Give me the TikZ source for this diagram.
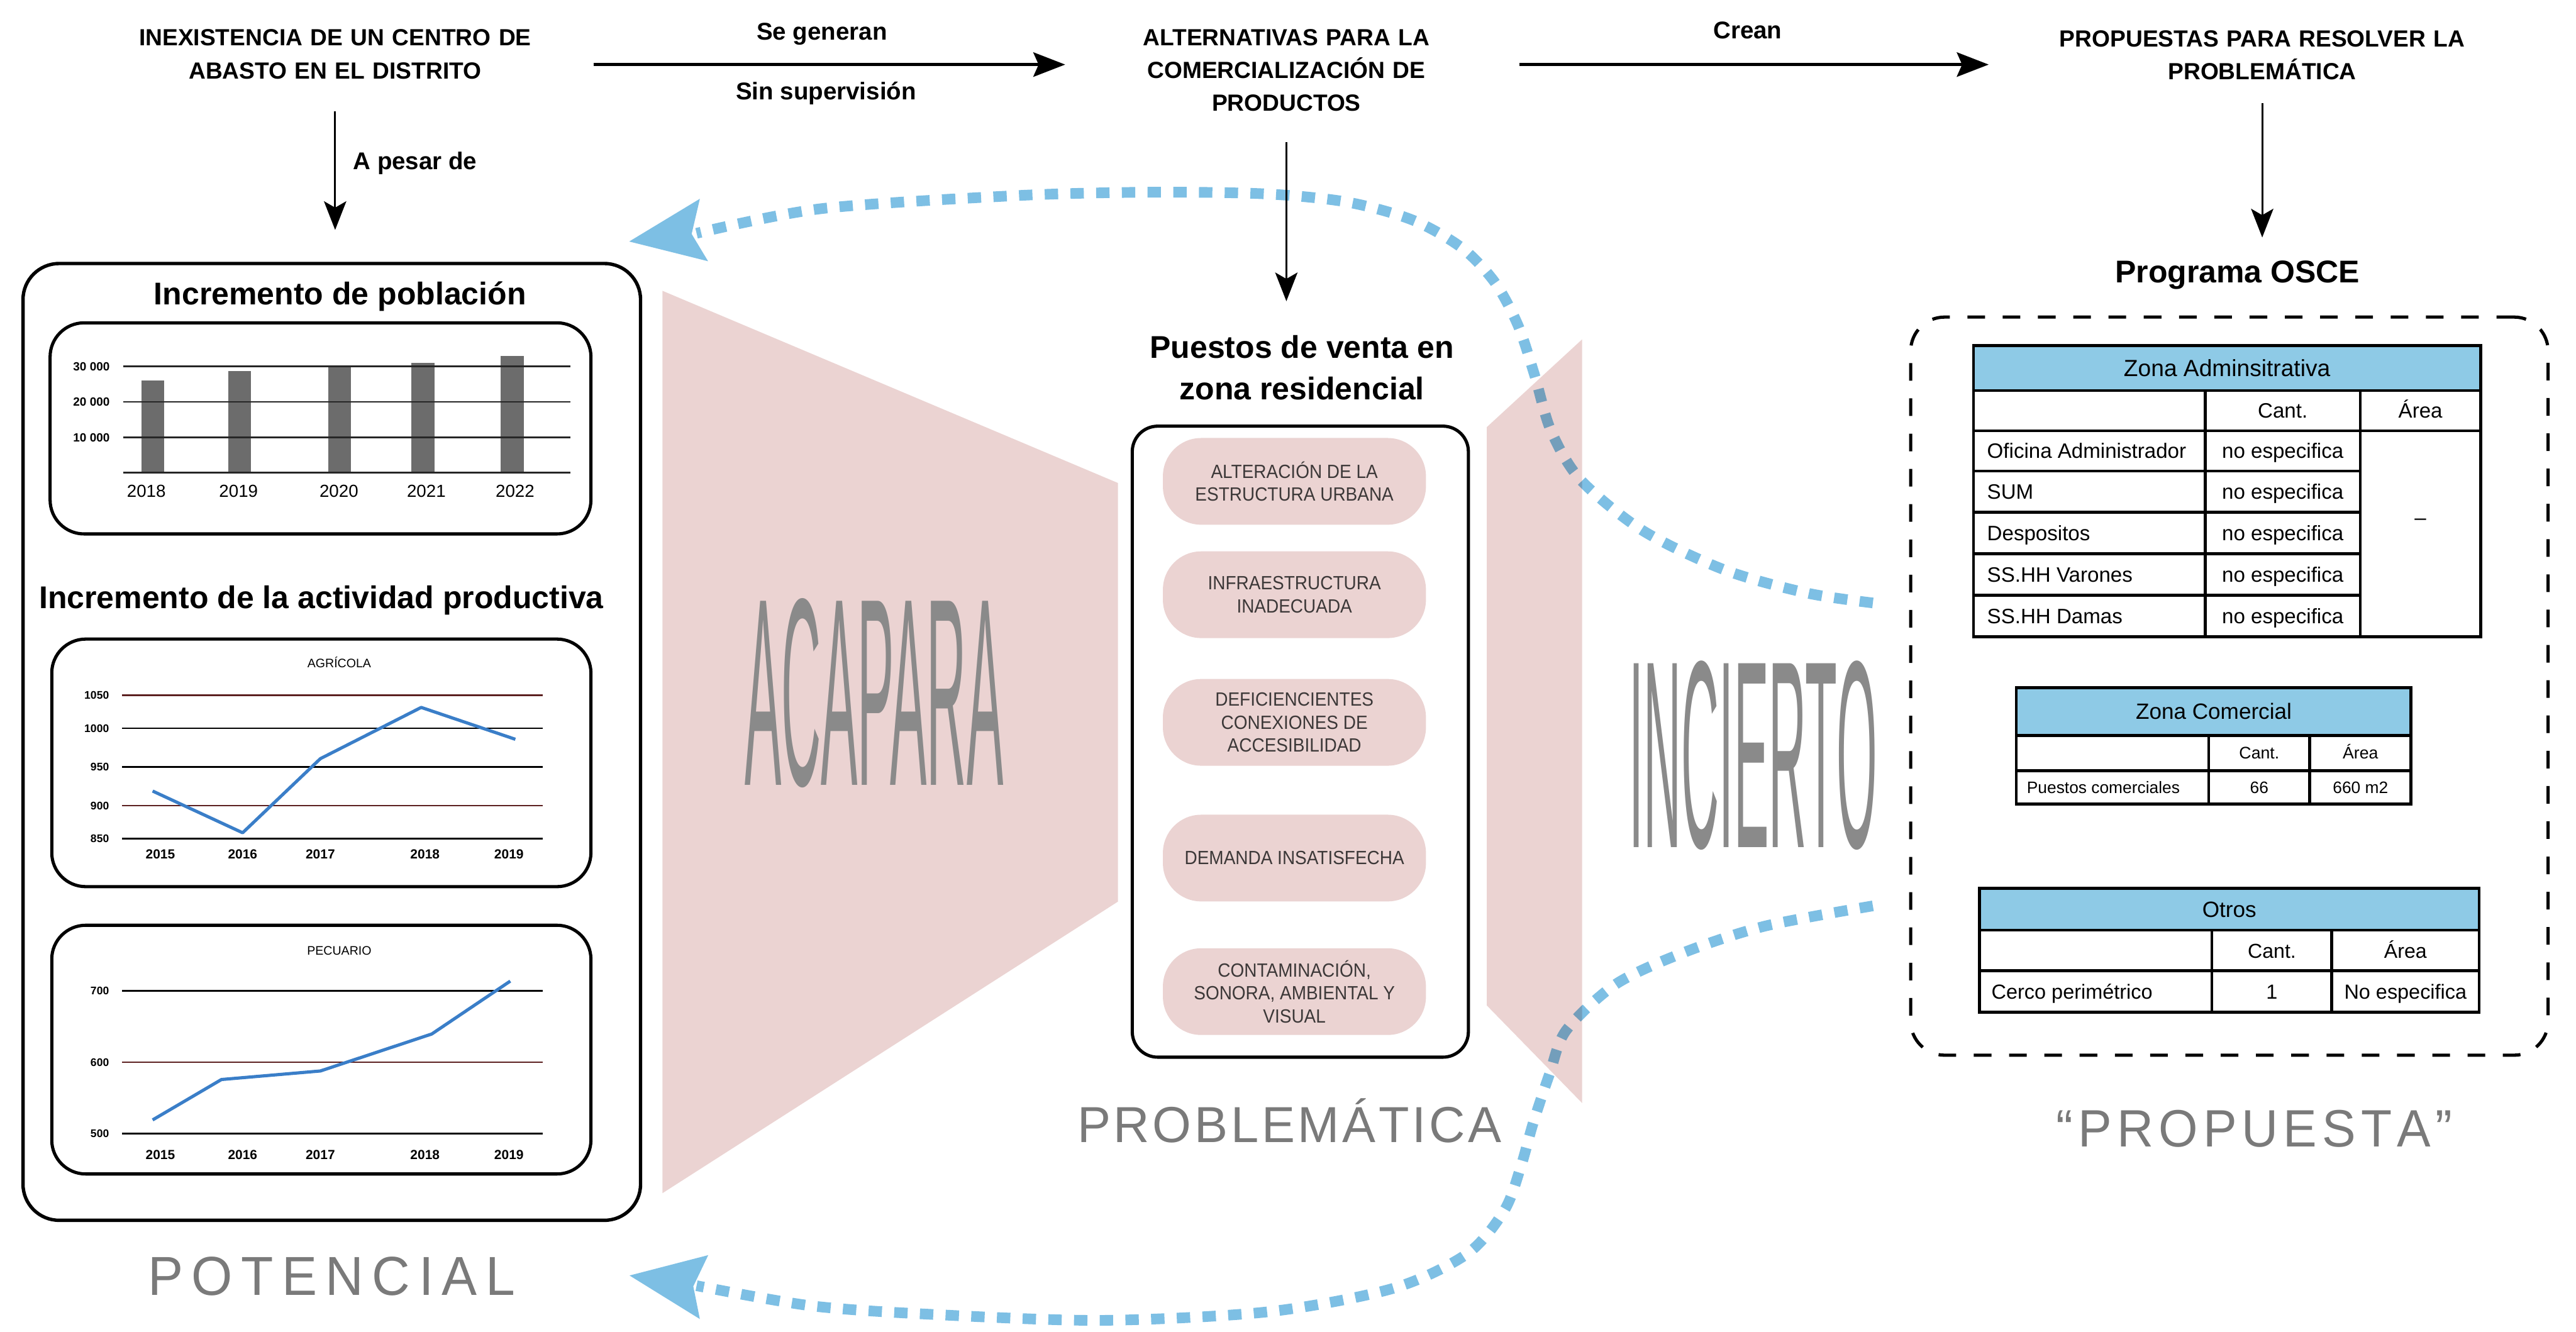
\documentclass[tikz,border=0pt]{standalone}
\usepackage{graphicx}
\usepackage{fontspec}
\setmainfont{Liberation Sans}
\newfontfamily\pillfont[FakeStretch=0.92]{Liberation Sans}
\usetikzlibrary{arrows.meta,fit}

\definecolor{pinkfill}{RGB}{235,211,210}
\definecolor{pilltext}{RGB}{60,56,56}
\definecolor{loopblue}{RGB}{125,191,228}
\definecolor{headblue}{RGB}{142,202,230}
\definecolor{biggrey}{RGB}{138,138,138}
\definecolor{wordgrey}{RGB}{122,122,122}
\definecolor{bargrey}{RGB}{108,108,108}
\definecolor{plotblue}{RGB}{58,126,200}
\definecolor{gridred}{RGB}{92,32,32}

% scale a text so that its capital height and its width take the given sizes
\newcommand{\capfit}[3]{\resizebox{#1}{#2}{\vphantom{X}\smash{#3}}}
\newcommand{\lsk}[1]{\kern#1em}

\begin{document}
\begin{tikzpicture}[x=0.02717cm, y=-0.02717cm,
  every node/.style={inner sep=0pt},
  txt/.code={\pgfmathsetmacro\capht{0.72*#1}%
    \edef\tmpkeys{\noexpand\tikzset{font=\noexpand\fontsize{#1}{#1}\noexpand\selectfont,
      text height=\capht pt, text depth=0pt}}\tmpkeys},
  txtb/.code={\pgfmathsetmacro\capht{0.72*#1}%
    \edef\tmpkeys{\noexpand\tikzset{font=\noexpand\bfseries\noexpand\fontsize{#1}{#1}\noexpand\selectfont,
      text height=\capht pt, text depth=0pt}}\tmpkeys},
  hdr/.style={font=\bfseries\fontsize{11}{15.5}\selectfont, align=center},
  subhead/.style={font=\bfseries\fontsize{14.8}{19.7}\selectfont, align=center},
  harrow/.style={-{Stealth[length=15pt,width=11.5pt,inset=2.5pt]}, line width=1.3pt},
  varrow/.style={-{Stealth[length=13.5pt,width=10.5pt,inset=3pt]}, line width=0.9pt},
  roundbox/.style={draw, line width=1.6pt, rounded corners=17pt},
  chartbox/.style={draw, line width=1.5pt, rounded corners=16pt},
  midbox/.style={draw, line width=1.5pt, rounded corners=12pt},
  dbox/.style={draw, line width=1.5pt, rounded corners=16pt, dash pattern=on 8.3pt off 8.3pt},
  pill/.style={fill=pinkfill, rounded corners=18pt, minimum width=123.8pt, minimum height=40.8pt,
    align=center, text=pilltext, font=\pillfont\fontsize{9}{10.8}\selectfont},
  gline/.style={line width=0.8pt},
  trend/.style={draw=plotblue, line width=1.5pt, line join=round},
  loopline/.style={draw=loopblue, line width=5pt, dash pattern=on 6.3pt off 5.8pt},
  tline/.style={line width=1.4pt},
  bigword/.style={text=biggrey},
  tagword/.style={text=wordgrey},
]
\useasboundingbox (0,0) rectangle (1568,810.5);
\fill[white] (0,0) rectangle (1568,810.5);

% ---------- pink wedges with their words ----------
\fill[pinkfill] (403.2,177) -- (680.5,294) -- (680.5,548.8) -- (403.2,726.3) -- cycle;
\fill[pinkfill] (905,260) -- (963,206.6) -- (963,671.4) -- (905,612) -- cycle;
\node[bigword] (acapara) at (532,421.9) {\capfit{4.277cm}{3.043cm}{ACAPARA}};
\node[bigword] (incierto) at (1067.2,460) {\capfit{4.097cm}{3.040cm}{INCIERTO}};

% ---------- dotted feedback loops ----------
\begin{scope}[blend mode=multiply]
  \coordinate (loopAtip) at (383,147);
  \coordinate (loopBtip) at (383.2,776.4);
  \draw[loopline] plot[smooth, tension=0.5] coordinates {(1140,367) (1100,361) (1050,347) (1000,323)
    (962,292) (944,262) (934,228) (924,198) (910,172) (890,151) (860,134) (820,123) (770,118)
    (700,117) (620,119) (500,127) (424,142)};
  \fill[loopblue] (loopAtip) -- (426,121) -- (421,142.4) -- (431,159) -- cycle;
  \draw[loopline] plot[smooth, tension=0.5] coordinates {(1140,551.4) (1074.4,563.7) (1025.4,579.6)
    (983.6,599) (953.3,627.2) (943.2,653.7) (933.2,683.7) (925.7,710.2) (915.7,736.7) (893,763.2)
    (847.7,784.3) (771.8,798.5) (670.8,803.7) (569.9,800.2) (494.2,794.9) (424,782.6)};
  \fill[loopblue] (loopBtip) -- (431.1,764) -- (422,783) -- (426,802.9) -- cycle;
\end{scope}

% ---------- top row ----------
\node[hdr, text width=242.8pt] (t1) at (204,33) {INEXISTENCIA DE UN CENTRO DE\\ABASTO EN EL DISTRITO};
\node[hdr, text width=207.8pt] (t2) at (783,42.8) {ALTERNATIVAS PARA LA\\COMERCIALIZACIÓN DE\\PRODUCTOS};
\node[hdr, text width=257.1pt] (t3) at (1377,33.5) {PROPUESTAS PARA RESOLVER LA\\PROBLEMÁTICA};
\coordinate (arow) at (0,39.3);
\draw[harrow] (t1.east |- arow) -- (t2.west |- arow);
\draw[harrow, shorten <=5.7pt] (t2.east |- arow) -- (t3.west |- arow);
\node[txtb=11.4] (lsegen) at (500.3,19) {Se generan};
\node[txtb=11.4] (lsinsup) at (502.8,55.2) {Sin supervisión};
\node[txtb=11.4] (lcrean) at (1063.8,18.4) {Crean};
\node[txtb=11.4, anchor=west] (lpesar) at (214.7,98) {A pesar de};

% ---------- left panel: potential ----------
\node[roundbox, fit={(14,160.4) (389.9,742.8)}] (pot) {};
\node[txtb=14.8] (poptitle) at (207,178.5) {Incremento de población};
\node[chartbox, fit={(30.5,196.5) (359.7,325)}] (popchart) {};
\foreach \bx/\by in {93/231.6,145.9/225.8,206.7/222.8,257.5/220.9,311.8/216.8}
  \fill[bargrey] (\bx-7,287.8) rectangle (\bx+7,\by);
\foreach \gy in {222.9,244.6,266.3,287.8}
  \draw[gline, draw=black!85] (74.9,\gy) -- (347.3,\gy);
\foreach \gy/\gl/\i in {222.9/30 000/1,244.6/20 000/2,266.3/10 000/3}
  \node[txtb=5.6, anchor=east] (popy\i) at (67,\gy) {\gl};
\foreach \yx/\yr in {89.1/2018,145.2/2019,206.3/2020,259.5/2021,313.5/2022}
  \node[txt=8.2] (popx\yr) at (\yx,298.7) {\yr};

\node[txtb=14.8] (prodtitle) at (195.6,363.3) {Incremento de la actividad productiva};

\node[chartbox, fit={(31.5,389) (359.7,539.7)}] (agrchart) {};
\node[txt=5.8] (agrtitle) at (206.5,403.6) {AGRÍCOLA};
\foreach \gy/\gc/\gl in {423.1/gridred/1050,443.3/black/1000,466.7/black/950,490.4/gridred/900,510.4/black/850}{
  \draw[gline, draw=\gc] (74.4,\gy) -- (330.5,\gy);
  \node[txtb=5.2, anchor=east] (agry\gl) at (66.6,\gy) {\gl};}
\foreach \yx/\yr in {97.6/2015,147.7/2016,195/2017,258.7/2018,309.8/2019}
  \node[txtb=6.2] (agrx\yr) at (\yx,519.8) {\yr};
\draw[trend] (92.9,481.5) -- (147.7,506.9) -- (195,461.8) -- (256.4,430.6) -- (313.7,450);

\node[chartbox, fit={(31.5,563.2) (359.7,714.6)}] (pecchart) {};
\node[txt=5.8] (pectitle) at (206.5,578.5) {PECUARIO};
\foreach \gy/\gc/\gl in {603.1/black/700,646.6/gridred/600,690/black/500}{
  \draw[gline, draw=\gc] (74.4,\gy) -- (330.5,\gy);
  \node[txtb=5.2, anchor=east] (pecy\gl) at (66.6,\gy) {\gl};}
\foreach \yx/\yr in {97.6/2015,147.7/2016,195/2017,258.7/2018,309.8/2019}
  \node[txtb=6.2] (pecx\yr) at (\yx,702.9) {\yr};
\draw[trend] (92.9,681.7) -- (134.8,657.1) -- (195,651.9) -- (262.8,629.4) -- (310.6,597.2);

\node[tagword] (potencial) at (201.8,777) {\capfit{6.072cm}{0.625cm}{P\lsk{.16}O\lsk{.16}T\lsk{.16}E\lsk{.16}N\lsk{.16}C\lsk{.16}I\lsk{.16}A\lsk{.16}L}};

% ---------- middle panel: problems ----------
\node[subhead] (ptitle) at (792.5,223.8) {Puestos de venta en\\zona residencial};
\node[midbox, fit={(689.2,259.4) (893.8,643.5)}] (resbox) {};
\node[pill] (pill1) at (787.9,293) {ALTERACIÓN DE LA\\ESTRUCTURA URBANA};
\node[pill] (pill2) at (787.9,362) {INFRAESTRUCTURA\\INADECUADA};
\node[pill] (pill3) at (787.9,439.7) {DEFICIENCIENTES\\CONEXIONES DE\\ACCESIBILIDAD};
\node[pill] (pill4) at (787.9,522.3) {DEMANDA INSATISFECHA};
\node[pill] (pill5) at (787.9,603.6) {CONTAMINACIÓN,\\SONORA, AMBIENTAL Y\\VISUAL};
\node[tagword] (problematica) at (784.9,684.6) {\capfit{7.018cm}{0.576cm}{P\lsk{.06}R\lsk{.06}O\lsk{.06}B\lsk{.06}L\lsk{.06}E\lsk{.06}M\lsk{.06}Á\lsk{.06}T\lsk{.06}I\lsk{.06}C\lsk{.06}A}};

% ---------- right panel: proposal ----------
\node[txtb=14.8] (osce) at (1362,165) {Programa OSCE};
\node[dbox, fit={(1163,193) (1551,642.3)}] (propbox) {};

% administrative zone
\fill[headblue] (1201.3,210.4) rectangle (1510,237.7);
\draw[tline] (1201.3,210.4) rectangle (1510,387.5);
\draw[tline] (1201.3,237.7) -- (1510,237.7) (1201.3,262.2) -- (1510,262.2);
\foreach \gy in {286.7,311.9,337.1,362.3} \draw[tline] (1201.3,\gy) -- (1436.7,\gy);
\draw[tline] (1342.4,237.7) -- (1342.4,387.5) (1436.7,237.7) -- (1436.7,387.5);
\node[txt=11] (zadm) at (1355.6,224) {Zona Adminsitrativa};
\node[txt=9.8] (zadmc) at (1389.5,250) {Cant.};
\node[txt=9.8] (zadma) at (1473.3,250) {Área};
\foreach \gy/\gl/\i in {274.5/Oficina Administrador/1,299.3/SUM/2,324.5/Despositos/3,349.7/SS.HH Varones/4,374.9/SS.HH Damas/5}{
  \node[txt=9.8, anchor=west] (zadmr\i) at (1209.3,\gy) {\gl};
  \node[txt=9.8] (zadmn\i) at (1389.5,\gy) {no especifica};}
\node[txt=9.8] (zadmdash) at (1473.3,315) {–};

% commercial zone
\fill[headblue] (1227.3,418.5) rectangle (1467.6,447.6);
\draw[tline] (1227.3,418.5) rectangle (1467.6,489.5);
\draw[tline] (1227.3,447.6) -- (1467.6,447.6) (1227.3,469) -- (1467.6,469);
\draw[tline] (1344.4,447.6) -- (1344.4,489.5) (1406,447.6) -- (1406,489.5);
\node[txt=10.4] (zcom) at (1347.5,433) {Zona Comercial};
\node[txt=7.9] (zcomc) at (1375.2,458.3) {Cant.};
\node[txt=7.9] (zcoma) at (1436.8,458.3) {Área};
\node[txt=7.8, anchor=west] (zcomr) at (1233.5,479.3) {Puestos comerciales};
\node[txt=7.8] (zcomn) at (1375.2,479.3) {66};
\node[txt=7.8] (zcomv) at (1436.8,479.3) {660 m2};

% others
\fill[headblue] (1205,540.8) rectangle (1509,566.2);
\draw[tline] (1205,540.8) rectangle (1509,616);
\draw[tline] (1205,566.2) -- (1509,566.2) (1205,591) -- (1509,591);
\draw[tline] (1346.3,566.2) -- (1346.3,616) (1419.4,566.2) -- (1419.4,616);
\node[txt=10.4] (zotr) at (1357,553.5) {Otros};
\node[txt=9.5] (zotrc) at (1382.9,578.6) {Cant.};
\node[txt=9.5] (zotra) at (1464.2,578.6) {Área};
\node[txt=9.6, anchor=west] (zotrr) at (1212,603.5) {Cerco perimétrico};
\node[txt=9.6] (zotrn) at (1382.9,603.5) {1};
\node[txt=9.6] (zotrv) at (1464.2,603.5) {No especifica};

\node[tagword] (propuesta) at (1372.3,687) {\capfit{6.551cm}{0.598cm}{“\lsk{.1}P\lsk{.1}R\lsk{.1}O\lsk{.1}P\lsk{.1}U\lsk{.1}E\lsk{.1}S\lsk{.1}T\lsk{.1}A\lsk{.1}”}};

% ---------- vertical links ----------
\draw[varrow, shorten <=15pt, shorten >=15pt] (t1.south) -- (t1.south |- pot.north);
\draw[varrow, shorten <=14.2pt, shorten >=15.8pt] (t2.south) -- (t2.south |- ptitle.north);
\draw[varrow, shorten <=10.8pt, shorten >=10.3pt] (t3.south) -- (t3.south |- osce.north);
\end{tikzpicture}
\end{document}
